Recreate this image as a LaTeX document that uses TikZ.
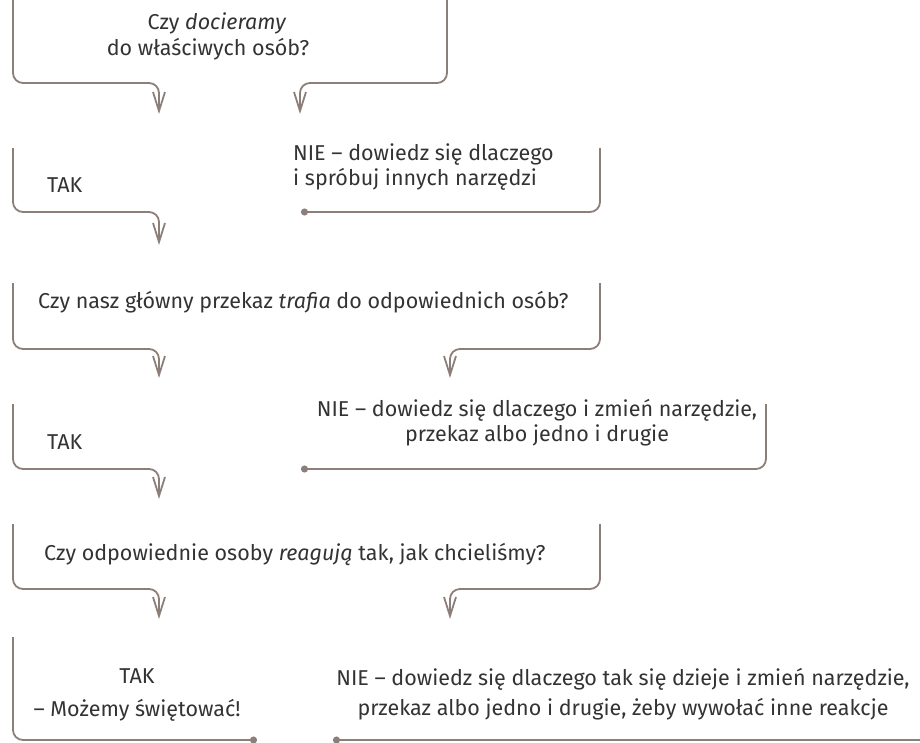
\documentclass[tikz,border=0pt]{standalone}
\usepackage{fontspec}
\IfFontExistsTF{FiraSans-Light.otf}{%
  \setmainfont{FiraSans}[Extension=.otf, UprightFont=*-Light, ItalicFont=*-LightItalic, BoldFont=*-Regular]%
}{%
  \setmainfont{Fira Sans}%
}
\usetikzlibrary{arrows.meta}
\definecolor{ln}{HTML}{8C7F79}
\definecolor{tx}{HTML}{333333}
\begin{document}
\begin{tikzpicture}[x=1pt,y=-1pt,
  conn/.style={draw=ln, line width=1.8pt, rounded corners=10pt},
  arr/.style={-{Straight Barb[length=19pt,width=12pt]}},
  dotstart/.style={{Circle[length=7pt,fill=ln]}-},
  dotend/.style={-{Circle[length=7pt,fill=ln]}},
  lbl/.style={text=tx, font=\fontsize{21.5}{26}\selectfont, inner sep=0pt},
]
\useasboundingbox (0,0) rectangle (920,742);

% ---------- texts ----------
\node[lbl, anchor=base] (q1a) at (217,29) {Czy \textit{docieramy}};
\node[lbl, anchor=base] (q1b) at (208,55) {do właściwych osób?};

\node[lbl, anchor=base west] (t1) at (47,192) {TAK};
\node[lbl, anchor=base west] (n1a) at (293,160) {NIE – dowiedz się dlaczego};
\node[lbl, anchor=base west] (n1b) at (293,185) {i spróbuj innych narzędzi};

\node[lbl, anchor=base west] (q2) at (38,308) {Czy nasz główny przekaz \textit{trafia} do odpowiednich osób?};

\node[lbl, anchor=base west] (t2) at (47,449) {TAK};
\node[lbl, anchor=base] (n2a) at (537,416) {NIE – dowiedz się dlaczego i zmień narzędzie,};
\node[lbl, anchor=base] (n2b) at (537,441) {przekaz albo jedno i drugie};

\node[lbl, anchor=base west] (q3) at (44,560) {Czy odpowiednie osoby \textit{reagują} tak, jak chcieliśmy?};

\node[lbl, anchor=base] (t3a) at (137,683) {TAK};
\node[lbl, anchor=base] (t3b) at (137,716) {– Możemy świętować!};
\node[lbl, anchor=base] (n3a) at (623,685) {NIE – dowiedz się dlaczego tak się dzieje i zmień narzędzie,};
\node[lbl, anchor=base] (n3b) at (623,715) {przekaz albo jedno i drugie, żeby wywołać inne reakcje};

% ---------- connector points ----------
\coordinate (b1Ls) at (13,0);   \coordinate (b1Lk) at (159,83);  \coordinate (b1Le) at (159,114);
\coordinate (b1Rs) at (447,0);  \coordinate (b1Rk) at (300,83);  \coordinate (b1Re) at (300,114);
\coordinate (b2Ls) at (13,148); \coordinate (b2Lk) at (159,212); \coordinate (b2Le) at (159,245);
\coordinate (b2Rd) at (301,212); \coordinate (b2Rk) at (600,212); \coordinate (b2Re) at (600,148);
\coordinate (b3Ls) at (13,283); \coordinate (b3Lk) at (159,349); \coordinate (b3Le) at (159,378);
\coordinate (b3Rs) at (600,283); \coordinate (b3Rk) at (450,349); \coordinate (b3Re) at (450,378);
\coordinate (b4Ls) at (13,404); \coordinate (b4Lk) at (159,469); \coordinate (b4Le) at (159,499);
\coordinate (b4Rd) at (301,469); \coordinate (b4Rk) at (766,469); \coordinate (b4Re) at (766,404);
\coordinate (b5Ls) at (13,524); \coordinate (b5Lk) at (159,589); \coordinate (b5Le) at (159,619);
\coordinate (b5Rs) at (600,524); \coordinate (b5Rk) at (450,589); \coordinate (b5Re) at (450,619);
\coordinate (b6Ls) at (13,637); \coordinate (b6Le) at (257,740);
\coordinate (b6Rd) at (333,740); \coordinate (b6Re) at (920,740);

% ---------- connectors ----------
\draw[conn,arr] (b1Ls) |- (b1Lk) -- (b1Le);
\draw[conn,arr] (b1Rs) |- (b1Rk) -- (b1Re);
\draw[conn,arr] (b2Ls) |- (b2Lk) -- (b2Le);
\draw[conn,dotstart] (b2Rd) -- (b2Rk) -- (b2Re);
\draw[conn,arr] (b3Ls) |- (b3Lk) -- (b3Le);
\draw[conn,arr] (b3Rs) |- (b3Rk) -- (b3Re);
\draw[conn,arr] (b4Ls) |- (b4Lk) -- (b4Le);
\draw[conn,dotstart] (b4Rd) -- (b4Rk) -- (b4Re);
\draw[conn,arr] (b5Ls) |- (b5Lk) -- (b5Le);
\draw[conn,arr] (b5Rs) |- (b5Rk) -- (b5Re);
\draw[conn,dotend] (b6Ls) |- (b6Le);
\draw[conn,dotstart] (b6Rd) -- (b6Re);
\end{tikzpicture}
\end{document}
